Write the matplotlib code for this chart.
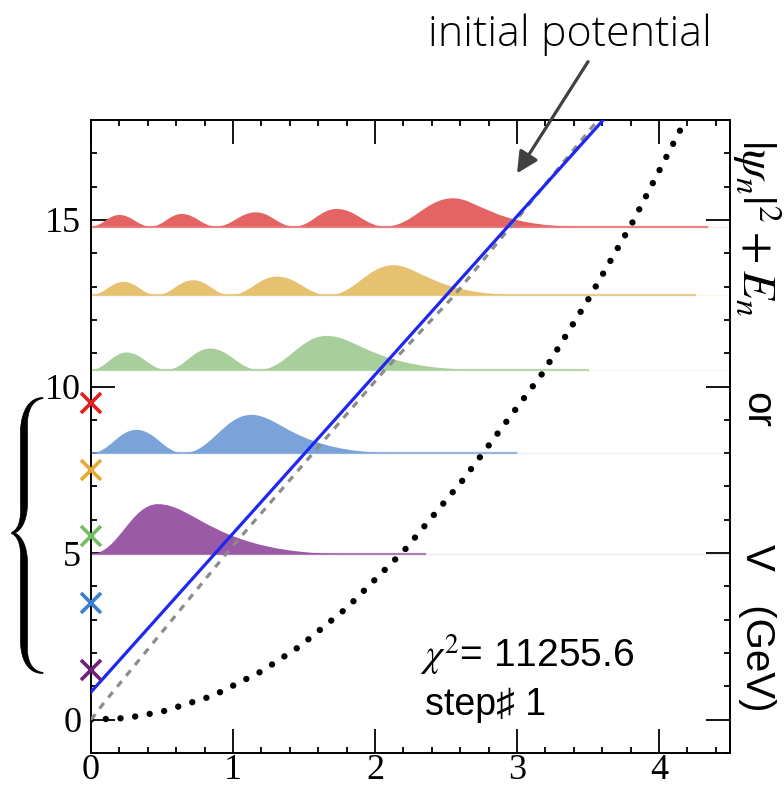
import numpy as np
import matplotlib
matplotlib.use("Agg")
import matplotlib.pyplot as plt
from matplotlib.path import Path
from matplotlib.patches import PathPatch, Polygon
from matplotlib.ticker import MultipleLocator
from matplotlib.transforms import Affine2D

plt.rcParams['mathtext.fontset'] = 'stix'

# bound-state levels (GeV) and |psi_n|^2 lobes: node positions, peak positions, peak heights
E_levels = [4.97, 8.0, 10.5, 12.74, 14.8]
nodes = [[0.0],
         [0.0, 0.65],
         [0.0, 0.53, 1.18],
         [0.0, 0.46, 0.98, 1.67],
         [0.0, 0.42, 0.88, 1.43, 2.07]]
peaks = [[0.47],
         [0.32, 1.13],
         [0.25, 0.84, 1.66],
         [0.23, 0.72, 1.31, 2.13],
         [0.20, 0.64, 1.16, 1.73, 2.55]]
heights = [[1.50],
           [0.70, 1.15],
           [0.52, 0.64, 1.02],
           [0.40, 0.45, 0.56, 0.90],
           [0.35, 0.38, 0.43, 0.53, 0.85]]
tail_end = [1.8, 2.15, 2.75, 3.05, 3.45]
line_end = [2.35, 2.99, 3.5, 4.25, 4.34]
fill_colors = ['#9a5aa6', '#7aa3da', '#a8ce9b', '#e5c170', '#e46464']

# measured masses marked on the axis
mass_values = [1.5, 3.5, 5.5, 7.5, 9.5]
mass_colors = ['#6e1f7a', '#3b7fd4', '#77bb66', '#e6a834', '#e02020']

# fitted linear potential
lin_x = [0.0, 3.75]
lin_y = [0.83, 18.68]
# initial potential
init_x = [0.0, 0.09, 0.95, 2.07, 2.56, 3.57]
init_y = [0.0, 0.5, 4.97, 10.5, 12.74, 18.0]
# quadratic trial potential (dotted)
quad_x = [0.0, 0.25, 0.5, 0.86, 1.2, 1.47, 1.8, 2.21, 2.62, 3.18, 3.5, 3.81, 4.15, 4.2]
quad_y = [0.0, 0.05, 0.24, 0.72, 1.45, 2.2, 3.35, 5.1, 7.2, 10.4, 12.6, 14.9, 17.7, 18.1]

chi2 = 11255.6
step = 1

fig = plt.figure(figsize=(7.84, 7.88), dpi=100)
ax = fig.add_axes([91/784, 1-753/788, (730-91)/784, (753-120)/788])
ax.set_xlim(0, 4.5)
ax.set_ylim(-1, 18)


def lobe_path(E, nd, pk, hs, tail):
    verts = [(nd[0], E)]
    codes = [Path.MOVETO]
    ends = list(nd[1:]) + [tail]
    k = 0.4
    for i, (a, p, h, b) in enumerate(zip(nd, pk, hs, ends)):
        verts += [(a + k*(p-a), E), (p - k*(p-a), E+h), (p, E+h)]
        codes += [Path.CURVE4]*3
        if i < len(pk) - 1:
            verts += [(p + k*(b-p), E+h), (b - k*(b-p), E), (b, E)]
        else:
            L = b - p
            verts += [(p + 0.2*L, E+h), (p + 0.3*L, E), (b, E)]
        codes += [Path.CURVE4]*3
    verts += [(nd[0], E), (nd[0], E)]
    codes += [Path.LINETO, Path.CLOSEPOLY]
    return Path(verts, codes)


for E, nd, pk, hs, te, le, c in zip(E_levels, nodes, peaks, heights,
                                      tail_end, line_end, fill_colors):
    ax.add_patch(PathPatch(lobe_path(E, nd, pk, hs, te), fc=c, ec='none', zorder=2))
    ax.plot([0, le], [E, E], color=c, lw=1.6, alpha=0.8, zorder=2)
    ax.plot([le, 4.5], [E, E], color=c, lw=1.0, alpha=0.15, zorder=2)

ax.plot(quad_x, quad_y, color='black', lw=4.6, linestyle=(0, (0.01, 2.3)),
        dash_capstyle='round', zorder=3)
ax.plot(init_x, init_y, color='#8c8c8c', lw=2.3, linestyle=(0, (2.2, 2.2)), zorder=4)
ax.plot(lin_x, lin_y, color='#1e28f0', lw=2.3, zorder=5)

for m, c in zip(mass_values, mass_colors):
    ax.plot(0, m, marker='x', ms=14, mew=2.6, color=c, clip_on=False, zorder=6)

# axes styling
for sp in ax.spines.values():
    sp.set_linewidth(1.4)
ax.xaxis.set_major_locator(MultipleLocator(1))
ax.xaxis.set_minor_locator(MultipleLocator(0.2))
ax.yaxis.set_major_locator(MultipleLocator(5))
ax.yaxis.set_minor_locator(MultipleLocator(1))
ax.tick_params(which='both', direction='in', top=True, right=True, width=1.3)
ax.tick_params(which='major', length=17)
ax.tick_params(which='minor', length=4.5)
ax.tick_params(axis='x', pad=1)
ax.tick_params(axis='y', pad=7)
for lab in ax.get_xticklabels() + ax.get_yticklabels():
    lab.set_family('Liberation Serif')
    lab.set_fontsize(26)

ax.text(2.32, 1.57, r'$\chi^2$= %.1f' % chi2, fontsize=28,
        family=['Liberation Sans', 'DejaVu Sans'], va='baseline', zorder=7)
ax.text(2.35, 0.13, 'step\u266f %d' % step, fontsize=27,
        family=['Liberation Sans', 'DejaVu Sans'], va='baseline', zorder=7)

# right-hand axis title, set piece by piece
fig.text(0.966, 1-228/788, r'$|\psi_n|^2 + E_n$', rotation=270,
         ha='center', va='center', fontsize=34)
fig.text(0.966, 1-410/788, 'or', rotation=270,
         ha='center', va='center', fontsize=29, family='Liberation Sans')
fig.text(0.966, 1-628/788, 'V   (GeV)', rotation=270,
         ha='center', va='center', fontsize=29, family='Liberation Sans')

fig.text(0.727, 0.956, 'initial potential', ha='center', va='center',
         fontsize=31, family='Open Sans', weight='light')
ax.annotate('', xy=(3.0, 16.4), xytext=(3.5, 19.75),
            arrowprops=dict(arrowstyle='-|>', color='#404040', lw=2.3,
                            mutation_scale=32, shrinkA=0, shrinkB=0),
            annotation_clip=False)


# left brace grouping the marked masses (drawn in figure pixels)
def bez(p0, p1, p2, p3, n=40):
    t = np.linspace(0, 1, n)[:, None]
    p0, p1, p2, p3 = map(np.asarray, (p0, p1, p2, p3))
    return (1-t)**3*p0 + 3*(1-t)**2*t*p1 + 3*(1-t)*t**2*p2 + t**3*p3


segs = [((43, 398), (30, 399), (24, 412), (24, 430), 1.0, 7.0),
        ((24, 430), (24, 450), (24, 485), (24, 505), 7.0, 7.0),
        ((24, 505), (24, 522), (19, 531), (12, 533), 7.0, 1.5),
        ((12, 533), (19, 535), (24, 544), (24, 561), 1.5, 7.0),
        ((24, 561), (24, 585), (24, 620), (24, 643), 7.0, 7.0),
        ((24, 643), (24, 661), (30, 672), (43, 673), 7.0, 1.0)]
cl, wd = [], []
for p0, p1, p2, p3, w0, w1 in segs:
    cl.append(bez(p0, p1, p2, p3))
    wd.append(np.linspace(w0, w1, 40))
cl = np.vstack(cl)
wd = np.concatenate(wd)
tg = np.gradient(cl, axis=0)
tg /= np.linalg.norm(tg, axis=1)[:, None] + 1e-12
nrm = np.column_stack([-tg[:, 1], tg[:, 0]])
outline = np.vstack([cl + nrm*wd[:, None]/2, (cl - nrm*wd[:, None]/2)[::-1]])
pix = Affine2D().scale(1/784, -1/788).translate(0, 1) + fig.transFigure
fig.add_artist(Polygon(outline, closed=True, fc='black', ec='black', lw=0.5,
                       transform=pix))

fig.savefig('out.png', dpi=100)
